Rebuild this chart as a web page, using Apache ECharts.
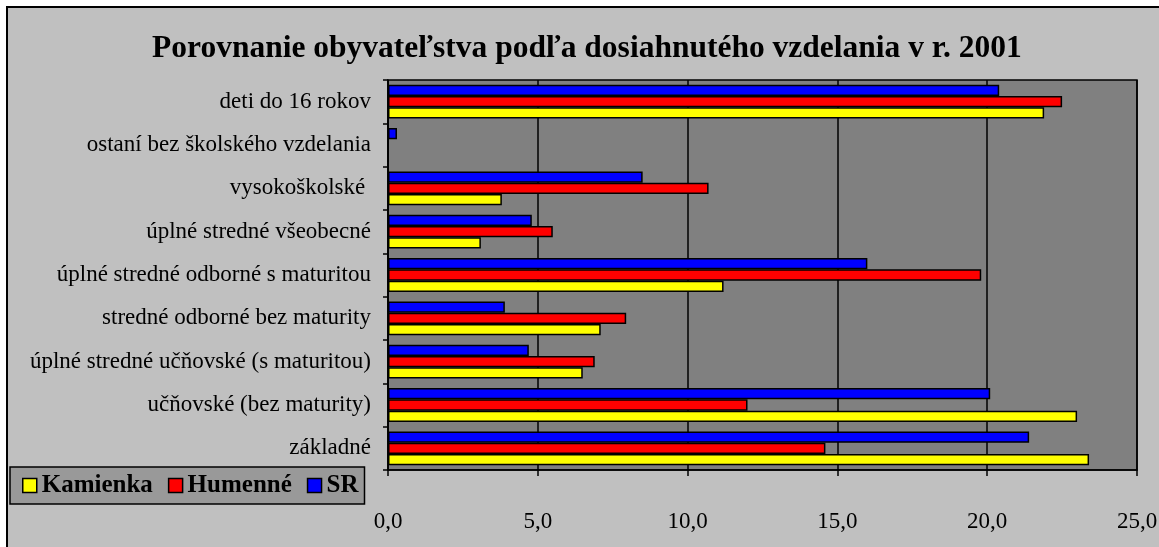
<!DOCTYPE html>
<html>
<head>
<meta charset="utf-8">
<script src="https://cdn.jsdelivr.net/npm/echarts@6/dist/echarts.min.js"></script>
<style>
  html, body { margin: 0; padding: 0; background: #fff; overflow: hidden; }
  #frame {
    position: absolute; left: 6px; top: 6px;
    width: 1151px; height: 539px;
    border-left: 2px solid #000; border-top: 2px solid #000;
    background: #c0c0c0;
  }
  #chart { width: 1151px; height: 539px; }
</style>
</head>
<body>
<div id="frame"><div id="chart"></div></div>
<script>
// kategórie zdola nahor
const categories = [
  'základné',
  'učňovské (bez maturity)',
  'úplné stredné učňovské (s maturitou)',
  'stredné odborné bez maturity',
  'úplné stredné odborné s maturitou',
  'úplné stredné všeobecné',
  'vysokoškolské ',
  'ostaní bez školského vzdelania',
  'deti do 16 rokov'
];
const kamienka = [23.4, 23.0, 6.5, 7.1, 11.2, 3.1, 3.8, 0, 21.9];
const humenne = [14.6, 12.0, 6.9, 7.95, 19.8, 5.5, 10.7, 0, 22.5];
const sr = [21.4, 20.1, 4.7, 3.9, 16.0, 4.8, 8.5, 0.3, 20.4];
const xTicks = [0, 5, 10, 15, 20, 25];

const chart = echarts.init(document.getElementById('chart'));
const serif = 'Liberation Serif';

function bar(name, data, color) {
  return {
    name: name,
    type: 'bar',
    data: data,
    barGap: '0%',
    barCategoryGap: '22%',
    itemStyle: { color: color, borderColor: '#000', borderWidth: 1.5 }
  };
}

chart.setOption({
  animation: false,
  textStyle: { fontFamily: serif, color: '#000' },
  title: {
    text: 'Porovnanie obyvateľstva podľa dosiahnutého vzdelania v r. 2001',
    left: 139,
    top: 20,
    textStyle: { fontFamily: serif, fontSize: 31.5, fontWeight: 'bold', color: '#000' }
  },
  legend: {
    left: 2,
    top: 459,
    padding: [6, 6, 6, 12],
    backgroundColor: '#999999',
    borderColor: '#000',
    borderWidth: 1.5,
    itemWidth: 14,
    itemHeight: 14,
    itemGap: 15,
    icon: 'rect',
    itemStyle: { borderColor: '#000', borderWidth: 1.5 },
    textStyle: { fontFamily: serif, fontSize: 25, fontWeight: 'bold', color: '#000' },
    data: ['Kamienka', 'Humenné', 'SR']
  },
  grid: {
    left: 380,
    right: 22,
    top: 72,
    bottom: 77,
    outerBoundsMode: 'none',
    show: true,
    backgroundColor: '#808080',
    borderColor: '#000',
    borderWidth: 1.5
  },
  xAxis: {
    type: 'value',
    min: xTicks[0],
    max: xTicks[xTicks.length - 1],
    interval: 5,
    axisLine: { show: true, lineStyle: { color: '#000', width: 1.5 } },
    axisTick: { show: true, length: 6, lineStyle: { color: '#000', width: 1.5 } },
    splitLine: { show: true, lineStyle: { color: '#000', width: 1.5 } },
    axisLabel: {
      margin: 40,
      fontFamily: serif,
      fontSize: 23,
      color: '#000',
      formatter: v => v.toFixed(1).replace('.', ',')
    }
  },
  yAxis: {
    type: 'category',
    data: categories,
    axisLine: { show: true, lineStyle: { color: '#000', width: 1.5 } },
    axisTick: { show: true, length: 5, lineStyle: { color: '#000', width: 1.5 } },
    axisLabel: { margin: 17, fontFamily: serif, fontSize: 23, color: '#000' }
  },
  // poradie: prvá séria je hore v skupine
  series: [
    bar('SR', sr, '#0000ff'),
    bar('Humenné', humenne, '#ff0000'),
    bar('Kamienka', kamienka, '#ffff00')
  ]
});
</script>
</body>
</html>
